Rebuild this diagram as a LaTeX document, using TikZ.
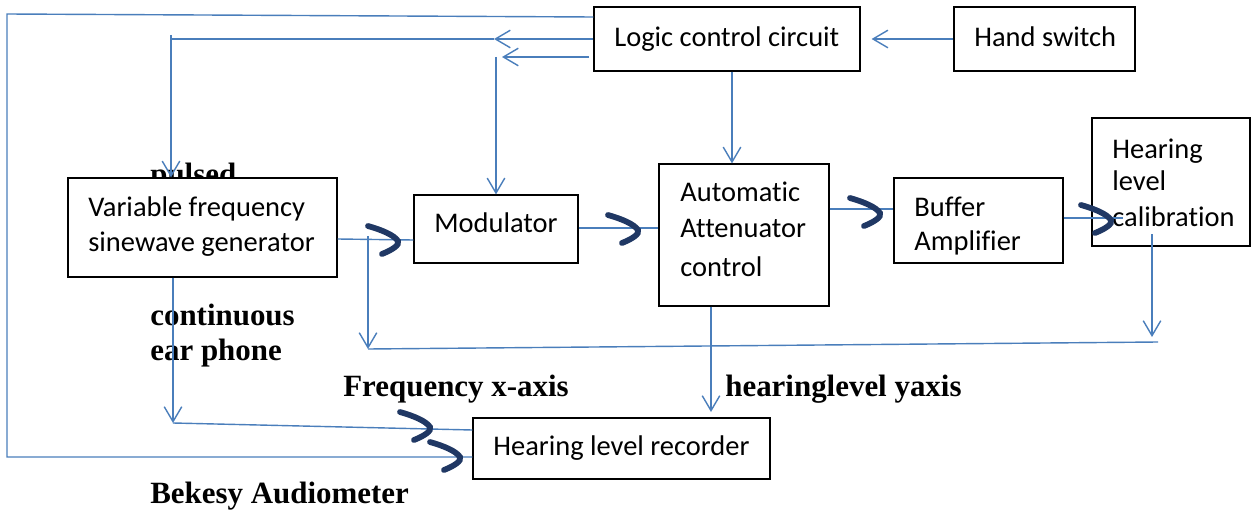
\documentclass[tikz,border=0pt]{standalone}
\usepackage{fontspec}
\setmainfont{Liberation Serif}
\newfontfamily\boxfont[Ligatures=NoCommon]{Carlito}
\usetikzlibrary{arrows.meta,fit,calc}
\definecolor{lineblue}{HTML}{4A7EBB}
\definecolor{hooknavy}{HTML}{203864}
\tikzset{
  blk/.style={draw=black,line width=0.7pt,fill=white,inner sep=0pt},
  bl/.style={draw=lineblue,line width=0.8pt},
  arr/.style={-{Straight Barb[length=8.5pt,width=10pt,line width=0.8pt]}},
  bt/.style={inner sep=0pt,anchor=base west,font=\boxfont\fontsize{16.2}{19}\selectfont},
  lab/.style={inner sep=0pt,anchor=base west,font=\fontsize{17.6}{20}\selectfont\bfseries},
  hookstyle/.style={draw=hooknavy,line width=3.3pt,line cap=round},
  hook/.pic={\draw[hookstyle] (-30,-15) .. controls (-16,-11) and (-4,-6) .. (0,0) .. controls (2,4) and (-6,9) .. (-16,13);}
}
\begin{document}
\begin{tikzpicture}[x=0.02cm,y=-0.02cm]
\useasboundingbox (0,0) rectangle (1251,510);
% labels behind boxes
\node[lab] (lpulsed) at (150,184) {pulsed};
% boxes
\node[blk,fit={(594,7) (860,71)}] (logic) {};
\node[blk,fit={(954,7) (1135,71)}] (hand) {};
\node[blk,fit={(68,178) (337,277)}] (vfsg) {};
\node[blk,fit={(414,195) (578,263)}] (mod) {};
\node[blk,fit={(659,164) (829,306)}] (att) {};
\node[blk,fit={(894,178) (1063,263)}] (buf) {};
\node[blk,fit={(1092,118) (1250,246)}] (cal) {};
\node[blk,fit={(473,418) (770,479)}] (rec) {};
% box texts
\node[bt] (tlogic) at (614,47) {Logic control circuit};
\node[bt] (thand) at (974,47) {Hand switch};
\node[bt] (tv1) at (88,216) {Variable frequency};
\node[bt] (tv2) at (88,251) {sinewave generator};
\node[bt] (tmod) at (434,232) {Modulator};
\node[bt] (ta1) at (680,201) {Automatic};
\node[bt] (ta2) at (680,237) {Attenuator};
\node[bt] (ta3) at (680,276) {control};
\node[bt] (tb1) at (914,216) {Buffer};
\node[bt] (tb2) at (914,250) {Amplifier};
\node[bt] (tc1) at (1112,158) {Hearing};
\node[bt] (tc2) at (1112,191) {level};
\node[bt] (tc3) at (1112,226) {calibration};
\node[bt] (trec) at (493,455) {Hearing level recorder};
% other labels
\node[lab] (lcont) at (150,325) {continuous};
\node[lab] (lear) at (150,360) {ear phone};
\node[lab] (lfreq) at (343,396) {Frequency x-axis};
\node[lab] (lhear) at (725,396) {hearinglevel yaxis};
\node[lab] (lbek) at (150,503) {Bekesy Audiometer};
% connectors
\draw[bl] (logic.west |- 0,17) -- (7,14) -- (7,457) -- (rec.west |- 0,457);
\draw[bl,arr] (logic.west |- 0,39) -- (494,39);
\draw[bl] (494,39) -- (171,39);
\draw[bl,arr] (171,35) -- (vfsg.north -| 171,0);
\draw[bl,arr] (589,57) -- (502,57);
\draw[bl,arr] (496,57) -- (mod.north -| 496,0);
\draw[bl,arr] (logic.south -| 732,0) -- (att.north -| 732,0);
\draw[bl,arr] (hand.west) -- ($(logic.east)+(11,0)$);
\draw[bl] (vfsg.east |- 0,239) -- (mod.west |- 0,240);
\draw[bl,arr] (368,236) -- (368,349);
\draw[bl] (368,349) -- (1158,342);
\draw[bl] (mod.east |- 0,228) -- (att.west |- 0,228);
\draw[bl] (att.east |- 0,209) -- (buf.west |- 0,209);
\draw[bl] (buf.east |- 0,218) -- (1123,218);
\draw[bl,arr] (1152,234) -- (1152,337);
\draw[bl,arr] (att.south -| 711,0) -- (711,412);
\draw[bl,arr] (vfsg.south -| 173,0) -- (173,423);
\draw[bl] (173,423) -- (rec.west |- 0,430);
% hooks
\pic at (398,241) {hook};
\pic at (638,230) {hook};
\pic at (880,213) {hook};
\pic at (1111,220) {hook};
\pic at (430,427) {hook};
\pic at (460,457) {hook};
\end{tikzpicture}
\end{document}
